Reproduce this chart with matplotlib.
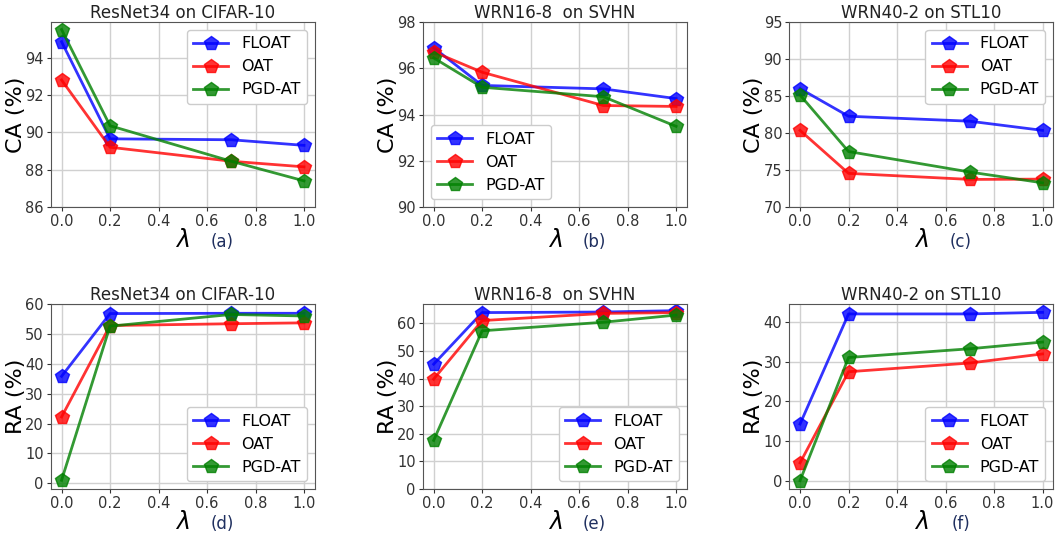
import numpy as np
import matplotlib
matplotlib.use("Agg")
import matplotlib.pyplot as plt

# lambda values
lam = [0.0, 0.2, 0.7, 1.0]
methods = ["FLOAT", "OAT", "PGD-AT"]
colors = ["b", "r", "g"]

# clean accuracy (CA)
ca_cifar = [[94.85, 89.65, 89.6, 89.3],
            [92.8, 89.2, 88.45, 88.15],
            [95.5, 90.35, 88.45, 87.4]]
ca_svhn = [[96.89, 95.26, 95.11, 94.69],
           [96.71, 95.83, 94.39, 94.35],
           [96.45, 95.18, 94.77, 93.49]]
ca_stl = [[86.0, 82.27, 81.6, 80.36],
          [80.36, 74.55, 73.73, 73.77],
          [85.14, 77.5, 74.73, 73.27]]

# robust accuracy (RA)
ra_cifar = [[35.8, 56.8, 56.9, 56.9],
            [22.2, 52.8, 53.4, 53.7],
            [1.0, 52.6, 56.5, 56.0]]
ra_svhn = [[45.2, 63.9, 64.1, 64.6],
           [39.8, 61.0, 63.6, 63.9],
           [17.6, 57.3, 60.4, 63.0]]
ra_stl = [[14.3, 42.1, 42.1, 42.5],
          [4.5, 27.5, 29.7, 32.0],
          [0.0, 31.1, 33.3, 35.0]]

titles = ["ResNet34 on CIFAR-10", "WRN16-8  on SVHN", "WRN40-2 on STL10"]
panels = [
    (ca_cifar, "CA (%)", "(a)", (86, 95.9), [86, 88, 90, 92, 94], "upper right"),
    (ca_svhn, "CA (%)", "(b)", (90, 98), [90, 92, 94, 96, 98], "lower left"),
    (ca_stl, "CA (%)", "(c)", (70, 95), [70, 75, 80, 85, 90, 95], "upper right"),
    (ra_cifar, "RA (%)", "(d)", (-1.9, 60), [0, 10, 20, 30, 40, 50, 60], "lower right"),
    (ra_svhn, "RA (%)", "(e)", (0, 67), [0, 10, 20, 30, 40, 50, 60], "lower right"),
    (ra_stl, "RA (%)", "(f)", (-2.1, 44.6), [0, 10, 20, 30, 40], "lower right"),
]

fig = plt.figure(figsize=(10.55, 5.33), dpi=100)
lefts = [0.048, 0.4007, 0.748]
bottoms = [0.6116, 0.0826]

for i, (data, ylab, tag, ylim, yt, loc) in enumerate(panels):
    row, col = divmod(i, 3)
    ax = fig.add_axes([lefts[col], bottoms[row], 0.2505, 0.347])
    for vals, name, c in zip(data, methods, colors):
        ax.plot(lam, vals, color=c, marker="p", markersize=10, linewidth=2,
                alpha=0.8, label=name)
    ax.set_ylim(*ylim)
    ax.set_yticks(yt)
    ax.set_xlim(-0.045, 1.045)
    ax.set_xticks([0.0, 0.2, 0.4, 0.6, 0.8, 1.0])
    ax.tick_params(labelsize=10.5, colors="#333333", length=3, pad=2)
    ax.grid(True, color="#d0d0d0", linewidth=1)
    for s in ax.spines.values():
        s.set_color("#555555")
    ax.set_title(titles[col], fontsize=12, pad=3, color="#222222")
    ax.set_ylabel(ylab, fontsize=16)
    ax.yaxis.set_label_coords(-0.095, 0.5)
    ax.text(0.5, -0.18, r"$\lambda$", transform=ax.transAxes, fontsize=17,
            ha="center", va="center")
    ax.text(0.65, -0.19, tag, transform=ax.transAxes, fontsize=12,
            ha="center", va="center", color="#1f2f5f")
    ax.legend(loc=loc, fontsize=11.5, handlelength=2.2, framealpha=1)

fig.savefig("out.png", dpi=100)
